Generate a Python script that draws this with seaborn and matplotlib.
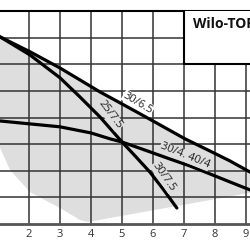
import matplotlib
matplotlib.use("Agg")
import matplotlib.pyplot as plt
import seaborn as sns
import pandas as pd
from matplotlib.patches import Rectangle

# ---- data ----
x_ticks = [2, 3, 4, 5, 6, 7, 8, 9]
y_grid = [1, 2, 3, 4, 5, 6, 7]

c30_65_x = [1.065, 2.03, 3.0, 3.645, 4.29, 5.0, 5.58, 6.23, 7.03, 7.84, 8.48, 9.13]
c30_65_y = [7.03, 6.47, 5.86, 5.41, 4.96, 4.51, 4.14, 3.72, 3.20, 2.74, 2.37, 1.95]

c25_75_x = [1.065, 2.03, 3.0, 3.645, 4.29, 5.0, 5.42, 5.9, 6.32, 6.77]
c25_75_y = [7.03, 6.35, 5.49, 4.77, 4.02, 3.08, 2.56, 1.95, 1.32, 0.60]

c30_4_x = [1.065, 2.03, 3.0, 4.0, 4.61, 5.0, 5.9, 6.55, 7.19, 7.84, 8.48, 9.13]
c30_4_y = [3.87, 3.76, 3.65, 3.42, 3.20, 3.08, 2.71, 2.44, 2.18, 1.88, 1.58, 1.28]

# lower boundary of the grey operating field (right to left)
field_low_x = [9.13, 3.9, 3.645, 3.0, 2.03, 1.39, 1.065]
field_low_y = [1.17, 0.075, 0.15, 0.60, 1.20, 2.03, 2.86]

labels = ["30/6.5", "25/7.5", "30/4. 40/4", "30/7.5"]
label_x = [5.52, 4.61, 7.03, 6.35]
label_y = [4.55, 4.10, 2.56, 1.77]
label_rot = [-31, -53, -22, -55]
label_bg = ["white", "#dedede", "#dedede", "#dedede"]

title = "Wilo-TOP"

# ---- figure ----
sns.set_style("white")
plt.rcParams['font.family'] = ['Open Sans', 'DejaVu Sans']

fig = plt.figure(figsize=(2.5, 2.5), dpi=100)
ax = fig.add_axes([0, 26 / 250, 1, 213 / 250])
ax.set_xlim(1 + 2 / 31, 1 + 252 / 31)
ax.set_ylim(0, 8)

grey = "#dedede"
poly_x = c30_65_x + field_low_x
poly_y = c30_65_y + field_low_y
ax.fill(poly_x, poly_y, color=grey, lw=0, zorder=0.2)

ax.set_axisbelow(True)
ax.set_xticks(x_ticks)
ax.set_yticks(y_grid)
ax.set_yticklabels([])
ax.grid(True, color="#333333", lw=1.1)
ax.tick_params(axis="x", length=0, pad=3.5, labelsize=8, labelcolor="#333333")
ax.tick_params(axis="y", length=0)

for xs, ys in [(c30_65_x, c30_65_y), (c25_75_x, c25_75_y), (c30_4_x, c30_4_y)]:
    df = pd.DataFrame({"x": xs, "y": ys})
    sns.lineplot(data=df, x="x", y="y", ax=ax, color="black", lw=2.3,
                 sort=False, estimator=None, zorder=2)

ax.set_xlabel("")
ax.set_ylabel("")

for t, lx, ly, r, bg in zip(labels, label_x, label_y, label_rot, label_bg):
    ax.text(lx, ly, t, rotation=r, ha="center", va="center", fontsize=8,
            color="#222222", zorder=2.5, rotation_mode="anchor",
            bbox=dict(boxstyle="square,pad=0.05", fc=bg, ec="none"))

ax.add_patch(Rectangle((7, 6), 3, 3, facecolor="white", edgecolor="black",
                       lw=1.5, zorder=3))
ax.text(7.29, 7.5, title, fontsize=10, fontweight="bold", color="#111111",
        ha="left", va="center", zorder=4)

ax.text(1, -0.32, "1", fontsize=8, color="#333333", ha="center", va="top",
        clip_on=False)

for s in ["left", "right"]:
    ax.spines[s].set_visible(False)
ax.spines["top"].set_color("black")
ax.spines["top"].set_linewidth(1.5)
ax.spines["bottom"].set_color("#555555")
ax.spines["bottom"].set_linewidth(2)

fig.savefig("out.png", dpi=100)
